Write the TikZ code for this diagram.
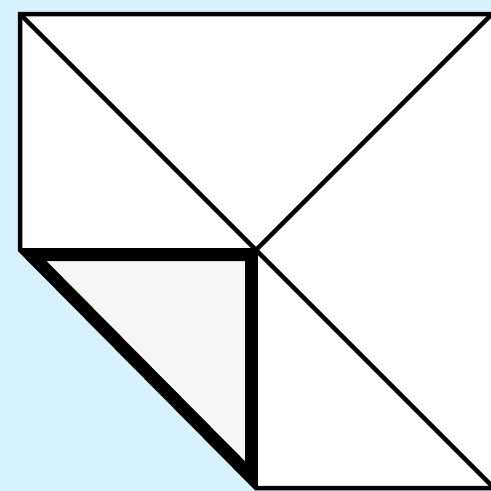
\documentclass[tikz,border=0pt]{standalone}
\definecolor{bgblue}{HTML}{D7F1FD}
\definecolor{tri}{HTML}{F7F6F7}
\tikzset{thin/.style={draw=black,line width=4.5pt,line join=miter}}
\begin{document}
\begin{tikzpicture}[x=1pt,y=-1pt]
\useasboundingbox (0,0) rectangle (491,491);
\clip (0,0) rectangle (491,491);
\fill[bgblue] (0,0) rectangle (491,491);
% named points
\coordinate (TL) at (20,14);
\coordinate (TR) at (505,14);
\coordinate (BR) at (505,488);
\coordinate (B) at (256,488);
\coordinate (L) at (20,250);
\coordinate (C) at (256,250);
\coordinate (D1) at (495,489);
\coordinate (D2) at (493,13);
% outer white shape
\fill[white] (TL) -- (TR) -- (BR) -- (B) -- (L) -- cycle;
% thick triangle with inner stroke
\begin{scope}
\clip (L) -- (C) -- (B) -- cycle;
\fill[tri] (L) -- (C) -- (B) -- cycle;
\draw[line width=22pt,line join=miter] (L) -- (C) -- (B) -- cycle;
\end{scope}
% outline and inner lines
\draw[thin] (TR) -- (TL) -- (L) -- (B) -- (BR);
\draw[thin] (TL) -- (D1);
\draw[thin] (C) -- (D2);
\draw[thin] (L) -- (C) -- (B);
\end{tikzpicture}
\end{document}
